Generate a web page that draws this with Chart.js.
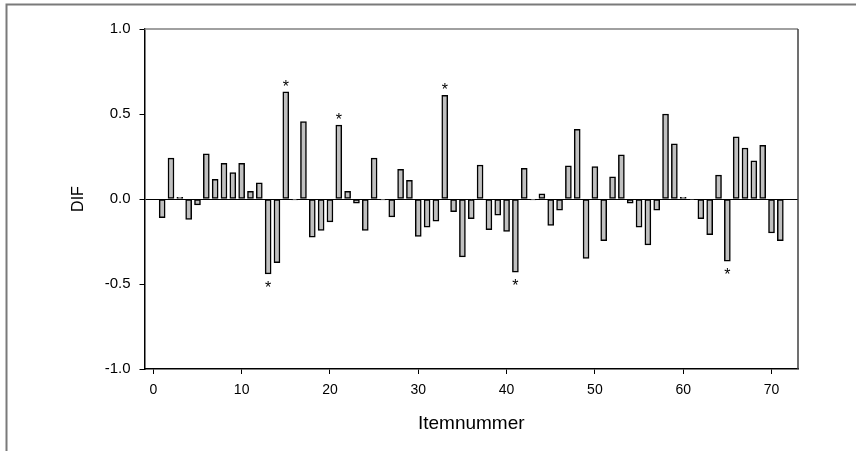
<!DOCTYPE html>
<html>
<head>
<meta charset="utf-8">
<script src="https://cdn.jsdelivr.net/npm/chart.js@4/dist/chart.umd.min.js"></script>
<style>
html,body{margin:0;padding:0;background:#fff;}
#wrap{position:relative;width:856px;height:451px;}
</style>
</head>
<body>
<div id="wrap"><canvas id="c" width="856" height="451"></canvas></div>
<script>
const items = [1,2,3,4,5,6,7,8,9,10,11,12,13,14,15,16,17,18,19,20,21,22,23,24,25,26,27,28,29,30,31,32,33,34,35,36,37,38,39,40,41,42,43,44,45,46,47,48,49,50,51,52,53,54,55,56,57,58,59,60,61,62,63,64,65,66,67,68,69,70,71];
const dif = [-0.11,0.24,0.01,-0.12,-0.035,0.265,0.115,0.21,0.155,0.21,0.045,0.095,-0.44,-0.375,0.63,-0.005,0.455,-0.225,-0.185,-0.135,0.435,0.045,-0.025,-0.185,0.24,-0.005,-0.105,0.175,0.11,-0.22,-0.165,-0.13,0.61,-0.075,-0.34,-0.115,0.20,-0.18,-0.095,-0.19,-0.43,0.18,-0.005,0.03,-0.155,-0.065,0.195,0.41,-0.35,0.19,-0.245,0.13,0.26,-0.025,-0.165,-0.27,-0.065,0.50,0.325,0.01,-0.003,-0.115,-0.21,0.14,-0.365,0.365,0.30,0.225,0.315,-0.20,-0.245];
const flagged = [13,15,21,33,41,65];
const xTicks = [0,10,20,30,40,50,60,70];
const yTicks = [-1.0,-0.5,0.0,0.5,1.0];
const xTitle = 'Itemnummer';
const yTitle = 'DIF';

const FONT = "'Liberation Sans', Arial, sans-serif";

const decorPlugin = {
  id: 'decor',
  beforeDraw(chart) {
    const ctx = chart.ctx;
    ctx.save();
    ctx.strokeStyle = '#7a7a7a';
    ctx.lineWidth = 2;
    ctx.beginPath();
    ctx.moveTo(6.5, 451);
    ctx.lineTo(6.5, 4.5);
    ctx.lineTo(856, 4.5);
    ctx.stroke();
    ctx.restore();
  },
  afterDraw(chart) {
    const ctx = chart.ctx;
    const a = chart.chartArea;
    const xs = chart.scales.x, ys = chart.scales.y;
    ctx.save();
    ctx.strokeStyle = '#808080';
    ctx.lineWidth = 1.5;
    ctx.beginPath();
    ctx.moveTo(a.left, a.top);
    ctx.lineTo(a.right, a.top);
    ctx.stroke();
    ctx.strokeStyle = '#404040';
    ctx.beginPath();
    ctx.moveTo(a.right, a.top);
    ctx.lineTo(a.right, a.bottom);
    ctx.stroke();
    ctx.fillStyle = '#000';
    ctx.font = '16px ' + FONT;
    ctx.textAlign = 'center';
    ctx.textBaseline = 'alphabetic';
    flagged.forEach(it => {
      const v = dif[items.indexOf(it)];
      const px = xs.getPixelForValue(it);
      const py = ys.getPixelForValue(v);
      const yc = v >= 0 ? py - 9 : py + 10;
      ctx.fillText('*', px, yc + 9);
    });
    ctx.restore();
  }
};

new Chart(document.getElementById('c'), {
  type: 'bar',
  data: {
    datasets: [{
      data: items.map((it, i) => ({x: it, y: dif[i]})),
      backgroundColor: '#c0c0c0',
      borderColor: '#000',
      borderWidth: 1.5,
      borderSkipped: false,
      barThickness: 6
    }]
  },
  options: {
    responsive: false,
    animation: false,
    devicePixelRatio: 1,
    layout: {padding: {left: 0, top: 29, right: 58, bottom: 0}},
    plugins: {legend: {display: false}, tooltip: {enabled: false}},
    scales: {
      x: {
        type: 'linear',
        min: -1, max: 73,
        offset: false,
        afterBuildTicks: s => { s.ticks = xTicks.map(v => ({value: v})); },
        afterFit: s => { s.height = 82; },
        grid: {offset: false, drawOnChartArea: false, drawTicks: true, tickLength: 5, color: '#000', lineWidth: 1},
        border: {color: '#000', width: 1.5},
        ticks: {color: '#000', font: {family: FONT, size: 14}, padding: 8, maxRotation: 0},
        title: {display: true, text: xTitle, color: '#000', font: {family: FONT, size: 19}, padding: {top: 0, bottom: 16}}
      },
      y: {
        min: -1, max: 1,
        afterBuildTicks: s => { s.ticks = yTicks.map(v => ({value: v})); },
        afterFit: s => { s.width = 144.5; },
        grid: {
          drawOnChartArea: true, drawTicks: true, tickLength: 5,
          color: c => (c.tick && c.tick.value === 0) ? '#000' : 'rgba(0,0,0,0)',
          tickColor: '#000', lineWidth: 1
        },
        border: {color: '#000', width: 1.5},
        ticks: {color: '#000', font: {family: FONT, size: 15}, padding: 9, callback: v => Number(v).toFixed(1)},
        title: {display: true, text: yTitle, color: '#000', font: {family: FONT, size: 16}, padding: {top: 69, bottom: 0}}
      }
    }
  },
  plugins: [decorPlugin]
});
</script>
</body>
</html>
